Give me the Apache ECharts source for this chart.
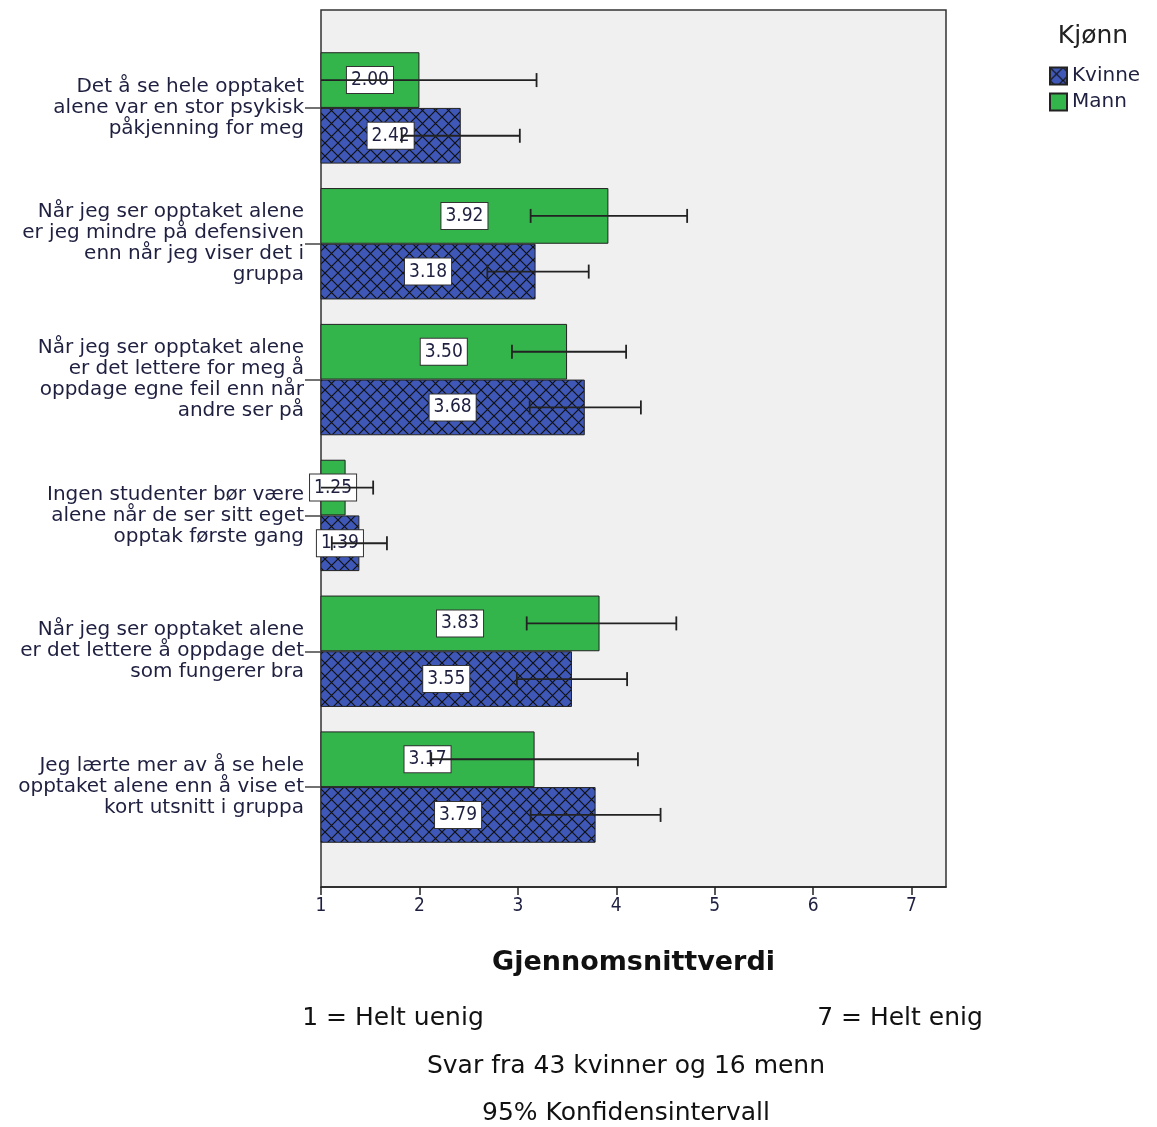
<!DOCTYPE html>
<html lang="no">
<head>
  <meta charset="UTF-8">
  <title>Gjennomsnittverdi</title>
  <style>
    html,body{margin:0;padding:0;background:#fff;}
    #main{width:1157px;height:1127px;}
  </style>
</head>
<body>
  <div id="main"></div>
  <script src="https://cdn.jsdelivr.net/npm/echarts@6/dist/echarts.min.js"></script>
  <script>
    const categories=[
      'Det å se hele opptaket\nalene var en stor psykisk\npåkjenning for meg',
      'Når jeg ser opptaket alene\ner jeg mindre på defensiven\nenn når jeg viser det i\ngruppa',
      'Når jeg ser opptaket alene\ner det lettere for meg å\noppdage egne feil enn når\nandre ser på',
      'Ingen studenter bør være\nalene når de ser sitt eget\nopptak første gang',
      'Når jeg ser opptaket alene\ner det lettere å oppdage det\nsom fungerer bra',
      'Jeg lærte mer av å se hele\nopptaket alene enn å vise et\nkort utsnitt i gruppa'
    ];
    const mannMean=[2.00,3.92,3.50,1.25,3.83,3.17];
    const mannLow=[0.81,3.13,2.94,0.97,3.09,2.12];
    const mannHigh=[3.19,4.72,4.10,1.53,4.61,4.22];
    const kvinneMean=[2.42,3.18,3.68,1.39,3.55,3.79];
    const kvinneLow=[1.82,2.69,3.12,1.11,2.99,3.13];
    const kvinneHigh=[3.02,3.72,4.25,1.67,4.11,4.45];
    const xTicks=[1,2,3,4,5,6,7];

    const textColor='#1f2040';
    const font='DejaVu Sans';
    const condensed='"DejaVu Sans Condensed", "DejaVu Sans"';

    // crosshatch fill for Kvinne
    const tile=document.createElement('canvas');
    tile.width=13;tile.height=13;
    const ctx=tile.getContext('2d');
    ctx.fillStyle='#3f58b8';
    ctx.fillRect(0,0,13,13);
    ctx.strokeStyle='#111';
    ctx.lineWidth=1.2;
    ctx.beginPath();
    ctx.moveTo(0,0);ctx.lineTo(13,13);
    ctx.moveTo(13,0);ctx.lineTo(0,13);
    ctx.stroke();
    const hatch={image:tile,repeat:'repeat'};

    const barFrac=0.41;

    function errBar(sign){
      return function(params,api){
        const cat=api.value(0);
        const lo=api.value(1), hi=api.value(2);
        const band=api.size([0,1])[1];
        const dy=sign*band*barFrac/2;
        const p1=api.coord([Math.max(lo,1),cat]);
        const p2=api.coord([hi,cat]);
        const y=p1[1]+dy;
        const cap=7;
        const st={stroke:'#222',lineWidth:1.8};
        const children=[
          {type:'line',shape:{x1:p1[0],y1:y,x2:p2[0],y2:y},style:st},
          {type:'line',shape:{x1:p2[0],y1:y-cap,x2:p2[0],y2:y+cap},style:st}
        ];
        if(lo>=1){
          children.push({type:'line',shape:{x1:p1[0],y1:y-cap,x2:p1[0],y2:y+cap},style:st});
        }
        return {type:'group',children:children};
      };
    }

    const barLabel={
      show:true,
      position:'inside',
      formatter:p=>p.value.toFixed(2),
      color:textColor,
      fontFamily:condensed,
      fontSize:19,
      backgroundColor:'#fff',
      borderColor:'#333',
      borderWidth:1,
      padding:[4,4,3,4]
    };

    const chart=echarts.init(document.getElementById('main'));
    chart.setOption({
      animation:false,
      textStyle:{fontFamily:font},
      legend:{
        data:['Kvinne','Mann'],
        orient:'vertical',
        left:1044,
        top:61,
        itemWidth:17,
        itemHeight:17,
        itemGap:6,
        icon:'rect',
        textStyle:{fontSize:20,color:textColor,fontFamily:font}
      },
      graphic:[
        {type:'text',x:1093,y:36,style:{text:'Kjønn',fontSize:25,fill:'#222',fontFamily:font,textAlign:'center',textVerticalAlign:'middle'}},
        {type:'text',x:393,y:1018,style:{text:'1 = Helt uenig',fontSize:25,fill:'#111',fontFamily:font,textAlign:'center',textVerticalAlign:'middle'}},
        {type:'text',x:900,y:1018,style:{text:'7 = Helt enig',fontSize:25,fill:'#111',fontFamily:font,textAlign:'center',textVerticalAlign:'middle'}},
        {type:'text',x:626,y:1066,style:{text:'Svar fra 43 kvinner og 16 menn',fontSize:25,fill:'#111',fontFamily:font,textAlign:'center',textVerticalAlign:'middle'}},
        {type:'text',x:626,y:1113,style:{text:'95% Konfidensintervall',fontSize:25,fill:'#111',fontFamily:font,textAlign:'center',textVerticalAlign:'middle'}}
      ],
      grid:[
        {left:321,right:211,top:10,bottom:240,show:true,backgroundColor:'#f0f0f0',borderColor:'#333',borderWidth:1.5},
        {left:321,right:211,top:40,height:815}
      ],
      xAxis:[
        {
          gridIndex:0,type:'value',min:1,max:7.35,
          name:'Gjennomsnittverdi',nameLocation:'middle',nameGap:62,
          nameTextStyle:{fontSize:27,fontWeight:'bold',color:'#111',fontFamily:font},
          axisLine:{show:true,lineStyle:{color:'#222',width:1.5}},
          axisTick:{show:true,length:8,customValues:xTicks,lineStyle:{color:'#222',width:1.5}},
          axisLabel:{customValues:xTicks,fontSize:19,color:textColor,margin:10,fontFamily:condensed},
          splitLine:{show:false}
        },
        {gridIndex:1,type:'value',min:1,max:7.35,show:false}
      ],
      yAxis:[
        {gridIndex:0,type:'value',show:false},
        {
          gridIndex:1,type:'category',inverse:true,data:categories,
          axisLine:{show:false},
          axisTick:{show:true,alignWithLabel:true,length:16,lineStyle:{color:'#444',width:1.5}},
          axisLabel:{fontSize:20,lineHeight:21,color:textColor,margin:17,align:'right'}
        }
      ],
      series:[
        {
          name:'Mann',type:'bar',xAxisIndex:1,yAxisIndex:1,
          barWidth:(barFrac*100)+'%',barGap:'0%',
          data:mannMean,
          itemStyle:{color:'#33b54b',borderColor:'#222',borderWidth:1},
          label:barLabel,z:2
        },
        {
          name:'Kvinne',type:'bar',xAxisIndex:1,yAxisIndex:1,
          barWidth:(barFrac*100)+'%',barGap:'0%',
          data:kvinneMean,
          itemStyle:{color:hatch,borderColor:'#222',borderWidth:1},
          label:barLabel,z:2
        },
        {
          name:'mannErr',type:'custom',xAxisIndex:1,yAxisIndex:1,z:5,
          renderItem:errBar(-1),
          encode:{x:[1,2],y:0},
          data:categories.map((c,i)=>[i,mannLow[i],mannHigh[i]])
        },
        {
          name:'kvinneErr',type:'custom',xAxisIndex:1,yAxisIndex:1,z:5,
          renderItem:errBar(1),
          encode:{x:[1,2],y:0},
          data:categories.map((c,i)=>[i,kvinneLow[i],kvinneHigh[i]])
        }
      ]
    });
  </script>
</body>
</html>
